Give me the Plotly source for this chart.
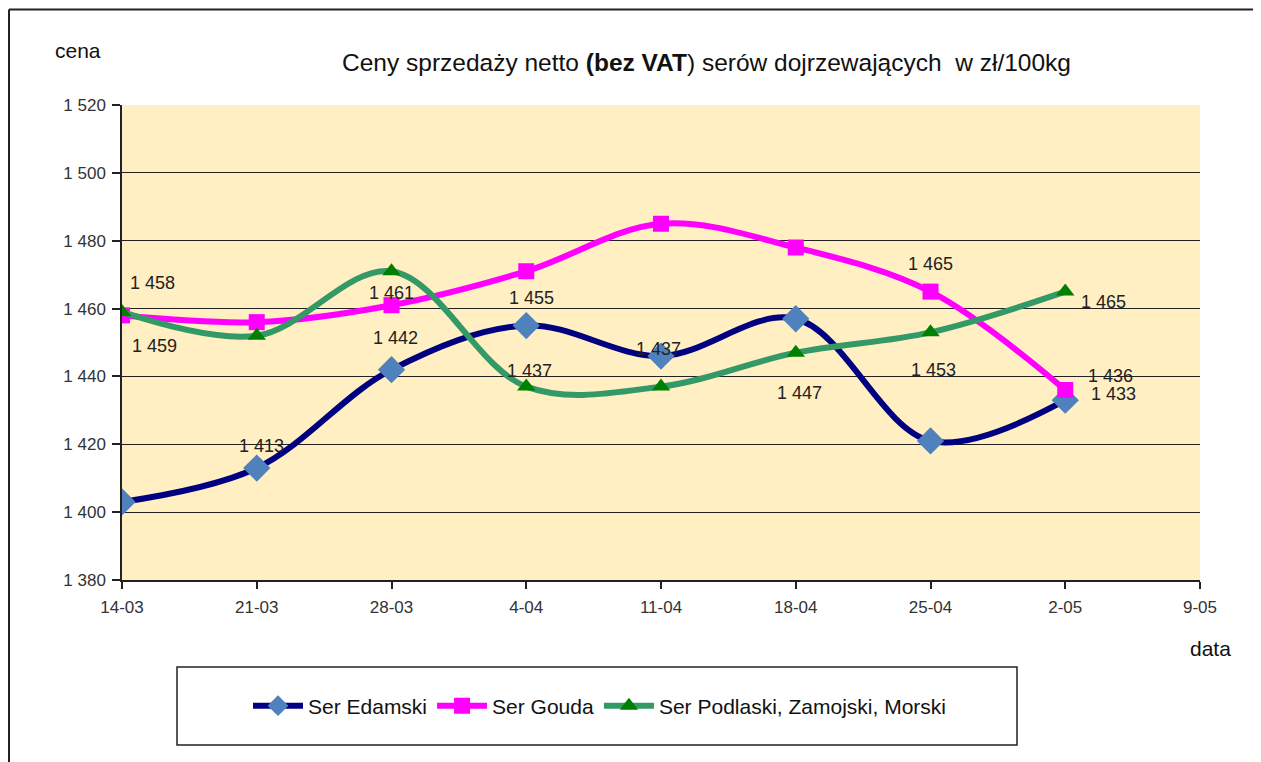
import plotly.graph_objects as go

dates = ["14-03", "21-03", "28-03", "4-04", "11-04", "18-04", "25-04", "2-05", "9-05"]
edamski = [1403, 1413, 1442, 1455, 1446, 1457, 1421, 1433]
gouda = [1458, 1456, 1461, 1471, 1485, 1478, 1465, 1436]
podlaski = [1459, 1452, 1471, 1437, 1437, 1447, 1453, 1465]
y_ticks = [1380, 1400, 1420, 1440, 1460, 1480, 1500, 1520]

# which points carry a visible data label (index lists)
edamski_labels = [1, 2, 3, 7]
gouda_labels = [0, 2, 6, 7]
podlaski_labels = [0, 3, 4, 5, 6, 7]

FONT = "Liberation Sans, Arial, sans-serif"

# page has an 8px body margin; plot area in the screenshot spans x 122..1200, y 105..580
W, H = 1253, 754
PL, PR, PT, PB = 122, 1200, 105, 580


def px(x):
    return (x - PL) / (PR - PL)


def py(y):
    return (PB - y) / (PB - PT)


fig = go.Figure()
fig.add_trace(go.Scatter(
    x=dates[:len(edamski)], y=edamski, name="Ser Edamski", mode="lines+markers",
    line=dict(color="#000080", width=6, shape="spline", smoothing=1.0),
    marker=dict(symbol="diamond", size=21, color="#4F81BD")))
fig.add_trace(go.Scatter(
    x=dates[:len(gouda)], y=gouda, name="Ser Gouda", mode="lines+markers",
    line=dict(color="#FF00FF", width=6, shape="spline", smoothing=1.0),
    marker=dict(symbol="square", size=16, color="#FF00FF")))
fig.add_trace(go.Scatter(
    x=dates[:len(podlaski)], y=podlaski, name="Ser Podlaski, Zamojski, Morski", mode="lines+markers",
    line=dict(color="#339966", width=6, shape="spline", smoothing=1.0),
    marker=dict(symbol="triangle-up", size=16, color="#008000")))


def fmt(v):
    return f"{v:,}".replace(",", " ")


# label offsets in pixels (dx, dy) relative to the point
offsets = {
    ("e", 1): (5, -22), ("e", 2): (4, -32), ("e", 3): (5, -28), ("e", 7): (48, -6),
    ("g", 0): (30, -32), ("g", 2): (0, -12), ("g", 6): (0, -28), ("g", 7): (45, -14),
    ("p", 0): (32, 34), ("p", 3): (3, -16), ("p", 4): (-3, -38), ("p", 5): (4, 40),
    ("p", 6): (3, 38), ("p", 7): (38, 10),
}
annots = []
for key, series, idxs in (("e", edamski, edamski_labels), ("g", gouda, gouda_labels), ("p", podlaski, podlaski_labels)):
    for i in idxs:
        dx, dy = offsets[(key, i)]
        annots.append(dict(x=dates[i], y=series[i], text=fmt(series[i]), showarrow=True,
                           arrowcolor="rgba(0,0,0,0)", ax=dx, ay=dy,
                           font=dict(family=FONT, size=18, color="#222222")))

annots += [
    dict(text="cena", xref="paper", yref="paper", x=px(78), y=py(50), showarrow=False,
         xanchor="center", yanchor="middle", font=dict(family=FONT, size=21, color="#111111")),
    dict(text="data", xref="paper", yref="paper", x=px(1210), y=py(648), showarrow=False,
         xanchor="center", yanchor="middle", font=dict(family=FONT, size=21, color="#111111")),
    dict(text="Ceny sprzedaży netto <b>(bez VAT</b>) serów dojrzewających  w zł/100kg",
         xref="paper", yref="paper", x=px(706), y=py(63), showarrow=False,
         xanchor="center", yanchor="middle", font=dict(family=FONT, size=24.5, color="#111111")),
]

fig.update_layout(
    width=W, height=H,
    margin=dict(l=PL - 8, r=W - (PR - 8), t=PT - 8, b=H - (PB - 8)),
    paper_bgcolor="white", plot_bgcolor="#FFEFC2",
    separators=", ",
    font=dict(family=FONT, size=17, color="#222222"),
    showlegend=True,
    legend=dict(orientation="h", x=px(600), y=py(706), xanchor="center", yanchor="middle",
                font=dict(family=FONT, size=21, color="#111111"),
                bgcolor="rgba(0,0,0,0)", borderwidth=0, itemwidth=50,
                tracegroupgap=0),
    annotations=annots,
    shapes=[
        dict(type="rect", xref="paper", yref="paper",
             x0=px(177), x1=px(1017), y0=py(745), y1=py(667),
             line=dict(color="#222222", width=1.5), fillcolor="rgba(0,0,0,0)"),
        dict(type="line", xref="paper", yref="paper",
             x0=px(9), x1=px(1270), y0=py(9.5), y1=py(9.5),
             line=dict(color="#222222", width=2)),
        dict(type="line", xref="paper", yref="paper",
             x0=px(9), x1=px(9), y0=py(9.5), y1=py(770),
             line=dict(color="#222222", width=2)),
    ],
)
fig.update_xaxes(type="category", categoryorder="array", categoryarray=dates,
                 range=[0, len(dates) - 1], showgrid=False,
                 showline=True, linecolor="#222222", linewidth=1.5,
                 ticks="outside", ticklen=7, tickcolor="#222222", tickwidth=1.5,
                 ticklabelstandoff=4,
                 tickfont=dict(family=FONT, size=17, color="#333333"), fixedrange=True)
fig.update_yaxes(range=[1380, 1520], tickvals=y_ticks, tickformat=",d",
                 showgrid=True, gridcolor="#222222", gridwidth=1.2, zeroline=False,
                 showline=True, linecolor="#222222", linewidth=1.5,
                 ticks="outside", ticklen=8, tickcolor="#222222", tickwidth=1.5,
                 ticklabelstandoff=3,
                 tickfont=dict(family=FONT, size=17, color="#333333"), fixedrange=True)

fig.write_html("out.html")
